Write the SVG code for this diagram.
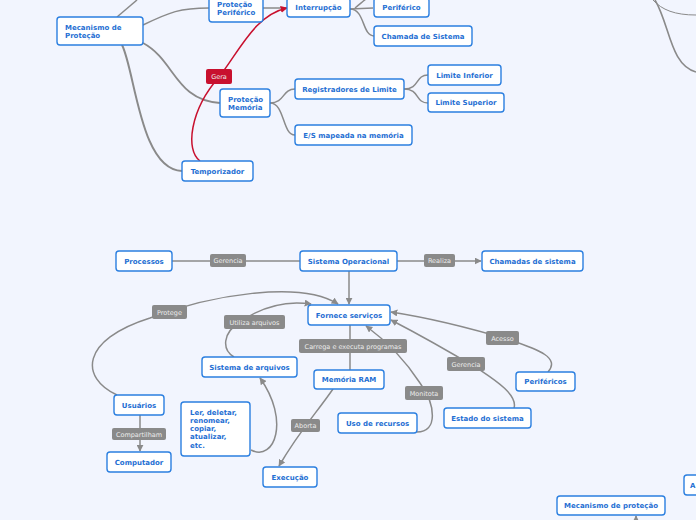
<svg xmlns="http://www.w3.org/2000/svg" width="696" height="520" viewBox="0 0 696 520">
<style>
.n rect{fill:#fff;stroke:#2b7fe0;stroke-width:1.4}
.n text{font-family:"DejaVu Sans",Verdana,sans-serif;font-weight:bold;font-size:7px;fill:#1f6fd3}
.c{text-anchor:middle}
.e path,.e line{fill:none;stroke:#8a8a8a;stroke-width:1.5}
.e .r{stroke:#c8102e;stroke-width:1.5}
.lb rect{fill:#8a8a8a}
.lb text{font-family:"DejaVu Sans",Verdana,sans-serif;font-size:6.5px;fill:#ececec;text-anchor:middle}
.lb .red{fill:#c8102e}
</style>
<defs>
<marker id="ag" viewBox="0 0 10 10" refX="9" refY="5" markerWidth="7" markerHeight="7" orient="auto" markerUnits="userSpaceOnUse"><path d="M0,0L10,5L0,10z" fill="#8a8a8a"/></marker>
<marker id="ar" viewBox="0 0 10 10" refX="9" refY="5" markerWidth="7" markerHeight="7" orient="auto" markerUnits="userSpaceOnUse"><path d="M0,0L10,5L0,10z" fill="#c8102e"/></marker>
</defs>
<rect width="696" height="520" fill="#f2f5fe"/>
<g id="connectors" class="e">
<path d="M117,17 L137,0"/>
<path d="M143,25 C170,12 180,8 209,8"/>
<path d="M143,43 C175,60 175,100 220,103" style="stroke-width:1.8"/>
<path d="M122,45 C135,70 140,170 182,171" style="stroke-width:2"/>
<path d="M263,8 L287,8"/>
<path class="r" d="M200,161 C185,150 190,110 219,77 C240,50 255,15 287,8" marker-end="url(#ar)"/>
<path d="M350,9 L373,8"/>
<path d="M350,9 C365,9 362,36 374,36"/>
<path d="M355,8 C360,4 362,2 366,-1"/>
<path d="M270,103 C285,103 282,89 295,89"/>
<path d="M270,103 C285,103 282,135 295,135"/>
<path d="M404,89 C420,89 415,75 428,75"/>
<path d="M404,89 C420,89 415,103 428,103"/>
<path d="M653,0 C662,10 675,15 696,15" style="stroke-width:1"/>
<path d="M655,0 C670,25 670,65 696,72" style="stroke-width:1.6"/>
<line x1="172" y1="261" x2="300" y2="261"/>
<line x1="397" y1="261" x2="481" y2="261" marker-end="url(#ag)"/>
<line x1="349" y1="271" x2="349" y2="304" marker-end="url(#ag)"/>
<path d="M117,395 C80,378 80,340 150,318 C210,295 300,280 338,304" marker-end="url(#ag)"/>
<path d="M234,357 C222,350 222,333 240,322 C260,308 285,300 311,304" marker-end="url(#ag)"/>
<line x1="350" y1="325" x2="350" y2="370"/>
<path d="M251,450 C275,462 290,420 260,378" marker-end="url(#ag)"/>
<path d="M333,389 C315,415 300,430 279,466" marker-end="url(#ag)"/>
<path d="M417,432 C438,432 436,405 420,383 C405,360 385,340 366,326" marker-end="url(#ag)"/>
<path d="M514,408 C518,395 495,380 480,370 C450,352 420,335 391,320" marker-end="url(#ag)"/>
<path d="M548,372 C560,358 540,350 510,340 C470,328 430,318 391,312" marker-end="url(#ag)"/>
<line x1="140" y1="415" x2="140" y2="451" marker-end="url(#ag)"/>
<path d="M636,520 L636,516" marker-end="url(#ag)"/>
</g>
<g class="lb">
<g id="l-gera"><rect x="206" y="69" width="26" height="15" rx="2" class="red"/><text x="219" y="79">Gera</text></g>
<g id="l-gerencia1"><rect x="210" y="254" width="36" height="13" rx="2"/><text x="228" y="263">Gerencia</text></g>
<g id="l-realiza"><rect x="424" y="254" width="31" height="13" rx="2"/><text x="439.5" y="263">Realiza</text></g>
<g id="l-protege"><rect x="152" y="305" width="35" height="14" rx="2"/><text x="169.5" y="314.5">Protege</text></g>
<g id="l-utiliza"><rect x="224" y="315" width="61" height="14" rx="2"/><text x="254.5" y="324.5">Utiliza arquivos</text></g>
<g id="l-carrega"><rect x="299" y="339" width="108" height="14" rx="2"/><text x="353" y="348.5">Carrega e executa programas</text></g>
<g id="l-acesso"><rect x="486" y="331" width="33" height="14" rx="2"/><text x="502.5" y="340.5">Acesso</text></g>
<g id="l-gerencia2"><rect x="447" y="357" width="38" height="14" rx="2"/><text x="466" y="366.5">Gerencia</text></g>
<g id="l-monitota"><rect x="405" y="386" width="38" height="14" rx="2"/><text x="424" y="395.5">Monitota</text></g>
<g id="l-aborta"><rect x="291" y="419" width="29" height="13" rx="2"/><text x="305.5" y="428">Aborta</text></g>
<g id="l-compartilham"><rect x="112" y="428" width="54" height="12" rx="2"/><text x="139" y="436.5">Compartilham</text></g>
</g>
<g class="n">
<g id="mecanismo"><rect x="57" y="17" width="86" height="28" rx="3"/><text x="65" y="30">Mecanismo de</text><text x="65" y="38">Proteção</text></g>
<g id="protecao-periferico"><rect x="209" y="-8" width="54" height="30" rx="3"/><text x="217" y="7">Proteção</text><text x="217" y="15">Periférico</text></g>
<g id="interrupcao"><rect x="287" y="-2" width="63" height="19" rx="3"/><text x="318.5" y="10" class="c">Interrupção</text></g>
<g id="periferico"><rect x="374" y="-2" width="55" height="19" rx="3"/><text x="401.5" y="10" class="c">Periférico</text></g>
<g id="chamada"><rect x="374" y="26" width="98" height="20" rx="3"/><text x="423" y="38.5" class="c">Chamada de Sistema</text></g>
<g id="protecao-memoria"><rect x="220" y="89" width="50" height="28" rx="3"/><text x="228" y="102">Proteção</text><text x="228" y="110">Memória</text></g>
<g id="registradores"><rect x="295" y="79" width="109" height="20" rx="3"/><text x="349.5" y="91.5" class="c">Registradores de Limite</text></g>
<g id="limite-inferior"><rect x="428" y="65" width="73" height="20" rx="3"/><text x="464.5" y="77.5" class="c">Limite Inferior</text></g>
<g id="limite-superior"><rect x="428" y="93" width="76" height="19" rx="3"/><text x="466" y="105" class="c">Limite Superior</text></g>
<g id="es-mapeada"><rect x="295" y="125" width="117" height="20" rx="3"/><text x="353.5" y="137.5" class="c">E/S mapeada na memória</text></g>
<g id="temporizador"><rect x="182" y="161" width="71" height="20" rx="3"/><text x="217.5" y="173.5" class="c">Temporizador</text></g>
<g id="processos"><rect x="116" y="251" width="56" height="20" rx="3"/><text x="144" y="263.5" class="c">Processos</text></g>
<g id="sistema-operacional"><rect x="300" y="251" width="97" height="20" rx="3"/><text x="348.5" y="263.5" class="c">Sistema Operacional</text></g>
<g id="chamadas-sistema"><rect x="482" y="251" width="101" height="20" rx="3"/><text x="532.5" y="263.5" class="c">Chamadas de sistema</text></g>
<g id="fornece"><rect x="308" y="305" width="82" height="20" rx="3"/><text x="349" y="317.5" class="c">Fornece serviços</text></g>
<g id="sistema-arquivos"><rect x="202" y="357" width="95" height="20" rx="3"/><text x="249.5" y="369.5" class="c">Sistema de arquivos</text></g>
<g id="memoria-ram"><rect x="314" y="370" width="70" height="19" rx="3"/><text x="349" y="382" class="c">Memória RAM</text></g>
<g id="perifericos"><rect x="516" y="372" width="59" height="19" rx="3"/><text x="545.5" y="384" class="c">Periféricos</text></g>
<g id="usuarios"><rect x="114" y="395" width="50" height="20" rx="3"/><text x="139" y="407.5" class="c">Usuários</text></g>
<g id="ler"><rect x="181" y="402" width="69" height="54" rx="3"/><text x="190" y="415">Ler, deletar,</text><text x="190" y="423">renomear,</text><text x="190" y="431">copiar,</text><text x="190" y="439">atualizar,</text><text x="190" y="448">etc.</text></g>
<g id="estado"><rect x="444" y="408" width="87" height="20" rx="3"/><text x="487.5" y="420.5" class="c">Estado do sistema</text></g>
<g id="uso-recursos"><rect x="338" y="413" width="79" height="20" rx="3"/><text x="377.5" y="425.5" class="c">Uso de recursos</text></g>
<g id="computador"><rect x="107" y="452" width="64" height="20" rx="3"/><text x="139" y="464.5" class="c">Computador</text></g>
<g id="execucao"><rect x="263" y="467" width="54" height="20" rx="3"/><text x="290" y="479.5" class="c">Execução</text></g>
<g id="mecanismo-protecao"><rect x="557" y="496" width="108" height="19" rx="3"/><text x="611" y="508" class="c">Mecanismo de proteção</text></g>
<g id="a-node"><rect x="684" y="475" width="20" height="20" rx="3"/><text x="690" y="487.5">A</text></g>
</g>
</svg>
